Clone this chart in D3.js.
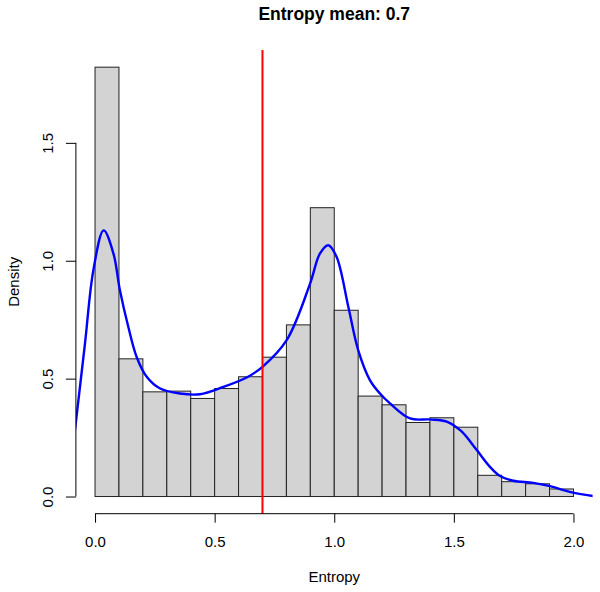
<!DOCTYPE html>
<html>
<head>
<meta charset="utf-8">
<script src="https://cdn.jsdelivr.net/npm/d3@7"></script>
<style>
  html, body { margin: 0; padding: 0; background: #fff; }
  svg { display: block; font-family: "Liberation Sans", Arial, Helvetica, sans-serif; }
</style>
</head>
<body>
<svg id="chart" width="600" height="592"></svg>
<script>
// ---- data ----
const titleText = "Entropy mean: 0.7";
const xLabel = "Entropy";
const yLabel = "Density";
const breaks = [0.0,0.1,0.2,0.3,0.4,0.5,0.6,0.7,0.8,0.9,1.0,1.1,1.2,1.3,1.4,1.5,1.6,1.7,1.8,1.9,2.0];
const densities = [1.821,0.584,0.444,0.447,0.416,0.458,0.508,0.591,0.728,1.225,0.790,0.426,0.389,0.314,0.334,0.294,0.090,0.063,0.054,0.032];
const meanValue = 0.7;
const kdeX = [-0.084,-0.042,-0.007,0.036,0.077,0.104,0.139,0.174,0.216,0.272,0.355,0.439,0.536,0.634,0.700,0.801,0.899,0.940,0.975,1.010,1.059,1.100,1.149,1.191,1.233,1.317,1.400,1.470,1.530,1.595,1.651,1.693,1.748,1.832,1.902,1.985,2.083];
const kdeY = [0.282,0.649,0.960,1.129,1.030,0.875,0.720,0.592,0.508,0.458,0.437,0.434,0.465,0.505,0.550,0.663,0.903,1.030,1.066,1.016,0.804,0.621,0.494,0.437,0.395,0.331,0.327,0.318,0.278,0.198,0.126,0.087,0.067,0.058,0.044,0.020,0.002];
const xTicks = [0.0,0.5,1.0,1.5,2.0];
const yTicks = [0.0,0.5,1.0,1.5];

// ---- layout ----
const plot = { left: 75.9, right: 592.6, top: 50, bottom: 513.7 };
const svg = d3.select("#chart");

const xMin = breaks[0], xMax = breaks[breaks.length - 1];
const xPad = (xMax - xMin) * 0.04;
const yMaxData = d3.max(densities);
const yPad = yMaxData * 0.04;

const x = d3.scaleLinear().domain([xMin - xPad, xMax + xPad]).range([plot.left, plot.right]);
const y = d3.scaleLinear().domain([-yPad, yMaxData + yPad]).range([plot.bottom, plot.top]);

svg.append("defs").append("clipPath").attr("id", "plotclip")
  .append("rect")
  .attr("x", plot.left).attr("y", plot.top)
  .attr("width", plot.right - plot.left).attr("height", plot.bottom - plot.top);

// bars
const bins = densities.map((d, i) => ({ x0: breaks[i], x1: breaks[i + 1], d }));
svg.append("g").selectAll("rect").data(bins).join("rect")
  .attr("x", b => x(b.x0))
  .attr("width", b => x(b.x1) - x(b.x0))
  .attr("y", b => y(b.d))
  .attr("height", b => y(0) - y(b.d))
  .attr("fill", "#d3d3d3")
  .attr("stroke", "#222")
  .attr("stroke-width", 1);

// density curve
const kde = kdeX.map((v, i) => [v, kdeY[i]]);
svg.append("path")
  .datum(kde)
  .attr("clip-path", "url(#plotclip)")
  .attr("fill", "none")
  .attr("stroke", "#0000ff")
  .attr("stroke-width", 2.4)
  .attr("d", d3.line().x(d => x(d[0])).y(d => y(d[1])).curve(d3.curveCatmullRom.alpha(0.5)));

// mean line
svg.append("line")
  .attr("x1", x(meanValue)).attr("x2", x(meanValue))
  .attr("y1", plot.top).attr("y2", plot.bottom)
  .attr("stroke", "#ff0000")
  .attr("stroke-width", 2);

// x axis
const gx = svg.append("g").attr("transform", `translate(0,${plot.bottom})`)
  .call(d3.axisBottom(x).tickValues(xTicks).tickFormat(d3.format(".1f")).tickSize(9).tickSizeOuter(0));
gx.select(".domain").remove();
gx.append("line").attr("x1", x(xTicks[0])).attr("x2", x(xTicks[xTicks.length - 1]))
  .attr("stroke", "#000");
gx.selectAll(".tick line").attr("stroke", "#000");
gx.selectAll(".tick text").attr("fill", "#000")
  .attr("y", 33.3).attr("dy", "0")
  .style("font-size", "15px").style("font-family", "Liberation Sans, Arial, sans-serif");

// y axis
const gy = svg.append("g").attr("transform", `translate(${plot.left},0)`)
  .call(d3.axisLeft(y).tickValues(yTicks).tickFormat(d3.format(".1f")).tickSize(10).tickSizeOuter(0));
gy.select(".domain").remove();
gy.append("line").attr("y1", y(yTicks[0])).attr("y2", y(yTicks[yTicks.length - 1]))
  .attr("stroke", "#000");
gy.selectAll(".tick line").attr("stroke", "#000");
gy.selectAll(".tick text")
  .attr("fill", "#000")
  .attr("x", null)
  .attr("text-anchor", "middle")
  .attr("transform", "translate(-22.6,0) rotate(-90)")
  .attr("dy", "0")
  .style("font-size", "15px").style("font-family", "Liberation Sans, Arial, sans-serif");

// labels
svg.append("text")
  .attr("x", (plot.left + plot.right) / 2).attr("y", 582)
  .attr("text-anchor", "middle")
  .style("font-size", "15px")
  .text(xLabel);

svg.append("text")
  .attr("transform", `translate(19,${(plot.top + plot.bottom) / 2}) rotate(-90)`)
  .attr("text-anchor", "middle")
  .style("font-size", "15px")
  .text(yLabel);

svg.append("text")
  .attr("x", (plot.left + plot.right) / 2).attr("y", 20)
  .attr("text-anchor", "middle")
  .style("font-size", "17.5px")
  .style("font-weight", "bold")
  .text(titleText);
</script>
</body>
</html>
